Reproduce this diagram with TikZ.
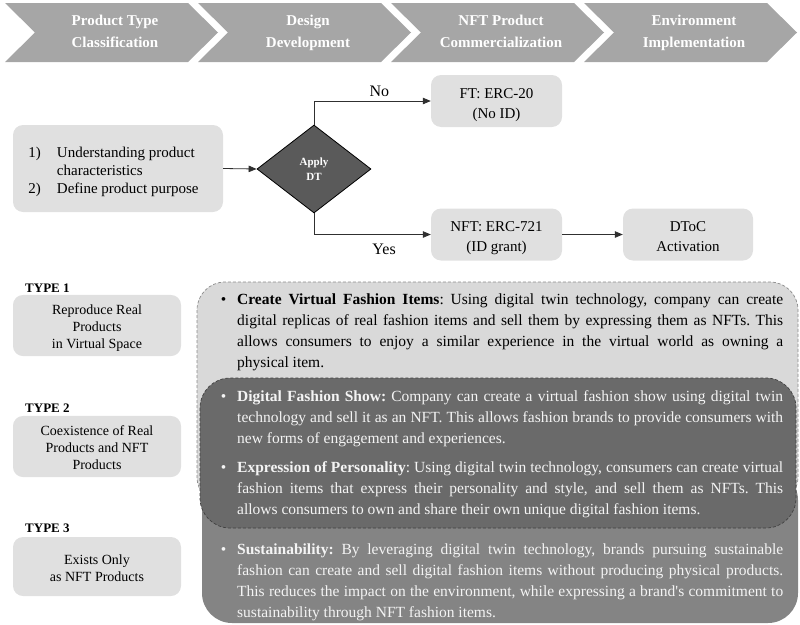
\documentclass[tikz,border=0pt]{standalone}
\usepackage{fontspec}
\setmainfont{Liberation Serif}[Ligatures=TeXOff]
\usetikzlibrary{shapes.geometric,arrows.meta}
\definecolor{chev}{HTML}{A6A6A6}
\definecolor{lbox}{HTML}{E0E0E0}
\definecolor{abox}{HTML}{D9D9D9}
\definecolor{bbox}{HTML}{6A6A6A}
\definecolor{cbox}{HTML}{848484}
\definecolor{dgray}{HTML}{5A5A5A}
\definecolor{lnk}{HTML}{303030}
\definecolor{wtext}{HTML}{F4F4F4}
\newcommand{\toprule}[1]{\rule{0pt}{#1}}
\frenchspacing
\begin{document}
\begin{tikzpicture}[x=1pt,y=-1pt,
  chevtext/.style={text=white, font=\fontsize{15}{22}\selectfont\bfseries, align=center, inner sep=0pt},
  lightbox/.style={fill=lbox, rounded corners=10pt, inner sep=2pt, align=center, font=\fontsize{15}{20}\selectfont},
  typebox/.style={lightbox, minimum width=168pt, minimum height=59pt, font=\fontsize{14}{17}\selectfont},
  typelabel/.style={anchor=west, inner sep=0pt, font=\fontsize{13}{15}\selectfont\bfseries},
  link/.style={draw=lnk, line width=0.8pt, -{Triangle[length=8pt,width=6.5pt]}},
  para/.style={anchor=north west, inner sep=0pt, text width=546pt, align=justify, font=\fontsize{15.5}{21}\selectfont},
  lab/.style={font=\fontsize{16}{18}\selectfont, inner sep=2pt}
]
\useasboundingbox (0,0) rectangle (800,624);

% chevrons
\foreach \x/\n/\t in {5/ch1/{\strut Product Type\\\strut Classification},198/ch2/{\strut Design\\\strut Development},391/ch3/{\strut NFT Product\\\strut Commercialization},584/ch4/{\strut Environment\\\strut Implementation}}{
  \fill[chev] (\x,3) -- ++(183,0) -- ++(30,29.5) -- ++(-30,29.5) -- ++(-183,0) -- ++(30,-29.5) -- cycle;
  \node[chevtext] (\n) at (\x+110,32.5) {\t};
}

% flow
\node[lightbox, minimum width=210pt, minimum height=87pt, font=\fontsize{15}{18}\selectfont] (s1) at (118,168.5)
  {\hspace*{-9pt}\raisebox{-3pt}[\height][\depth]{\begin{tabular}{@{}l@{\hspace{16pt}}l@{}}1) & Understanding product\\ & characteristics\\ 2) & Define product purpose\end{tabular}}};
\node[diamond, fill=dgray, draw=black, line width=0.8pt, minimum width=114pt, minimum height=88pt, aspect=1.3, inner sep=0pt,
  text=white, align=center, font=\fontsize{11}{15}\selectfont\bfseries] (dt) at (314,169) {Apply\\DT};
\node[lightbox, minimum width=131pt, minimum height=52pt] (ft) at (496.5,101) {\toprule{20pt}FT: ERC-20\\\strut (No ID)};
\node[lightbox, minimum width=131pt, minimum height=52pt] (nft) at (496.5,234.5) {\toprule{20pt}NFT: ERC-721\\\strut (ID grant)};
\node[lightbox, minimum width=130pt, minimum height=52pt] (dtoc) at (688,234.5) {\toprule{20pt}DToC\\\strut Activation};

\draw[link] (s1.east) -- (dt.west);
\draw[link] (dt.north) |- (ft.west) node[lab, pos=0.78, above, yshift=2pt] {No};
\draw[link] (dt.south) |- (nft.west) node[lab, pos=0.8, below, yshift=-7pt] {Yes};
\draw[link] (nft.east) -- (dtoc.west);

% types
\node[typelabel] (t1) at (25,288) {TYPE 1};
\node[typebox] (b1) at (97,325.5) {\toprule{18pt}Reproduce Real\\\strut Products\\\strut in Virtual Space};
\node[typelabel] (t2) at (25,408) {TYPE 2};
\node[typebox] (b2) at (97,446.5) {\toprule{18pt}Coexistence of Real\\\strut Products and NFT\\\strut Products};
\node[typelabel] (t3) at (25,528) {TYPE 3};
\node[typebox] (b3) at (97,566.5) {\toprule{18pt}Exists Only\\\strut as NFT Products};

% big layered boxes
\fill[cbox, rounded corners=30pt] (202,470) rectangle (798,623);
\draw[fill=abox, draw=gray!90, dash pattern=on 3pt off 2pt, line width=0.7pt, rounded corners=28pt] (197,282) rectangle (798,505);
\draw[fill=bbox, draw=black!75, dash pattern=on 3pt off 2pt, line width=0.7pt, rounded corners=30pt] (200,378) rectangle (796,528);

\node[para, text=black] (pa) at (237,290) {\noindent\strut\llap{\textbullet\hspace{11pt}}\textbf{Create Virtual Fashion Items}: Using digital twin technology, company can create\linebreak
digital replicas of real fashion items and sell them by expressing them as NFTs. This\linebreak
allows consumers to enjoy a similar experience in the virtual world as owning a\linebreak
physical item.};

\node[para, text=wtext] (pb) at (237,387) {\noindent\strut\llap{\textbullet\hspace{11pt}}\textbf{Digital Fashion Show:} Company can create a virtual fashion show using digital twin\linebreak
technology and sell it as an NFT. This allows fashion brands to provide consumers with\linebreak
new forms of engagement and experiences.\par\vspace{8pt}
\noindent\strut\llap{\textbullet\hspace{11pt}}\textbf{Expression of Personality}: Using digital twin technology, consumers can create virtual\linebreak
fashion items that express their personality and style, and sell them as NFTs. This\linebreak
allows consumers to own and share their own unique digital fashion items.};

\node[para, text=wtext] (pc) at (237,540) {\noindent\strut\llap{\textbullet\hspace{11pt}}\textbf{Sustainability:} By leveraging digital twin technology, brands pursuing sustainable\linebreak
fashion can create and sell digital fashion items without producing physical products.\linebreak
This reduces the impact on the environment, while expressing a brand's commitment to\linebreak
sustainability through NFT fashion items.};
\end{tikzpicture}
\end{document}
